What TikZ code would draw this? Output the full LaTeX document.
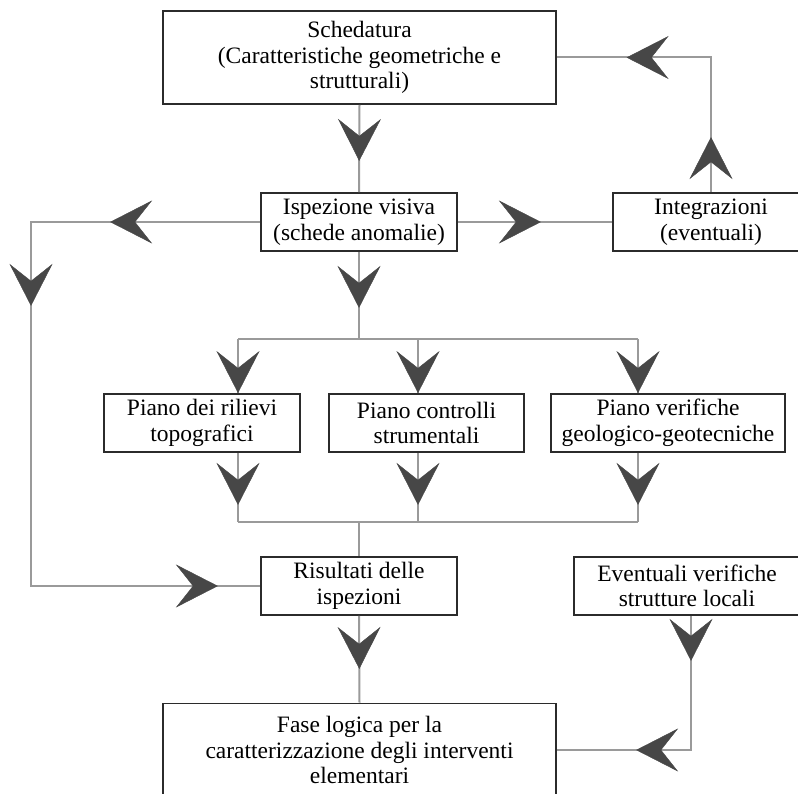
\documentclass[tikz,border=0pt]{standalone}
\usepackage{fontspec}
\setmainfont{Liberation Serif}
\usetikzlibrary{arrows.meta,decorations.markings}
\definecolor{connc}{HTML}{9A9A9A}
\definecolor{tipc}{HTML}{474747}
\definecolor{boxc}{HTML}{2B2B2B}
\newcommand\mytip{\arrow{Stealth[length=42pt,width=43pt,inset=17pt,line width=0.4pt,color=tipc,fill=tipc]}}
\tikzset{
  box/.style={draw=boxc, line width=1.8pt, fill=white, inner sep=0pt, align=center,
    font=\fontsize{23.5}{25.5}\selectfont},
  conn/.style={draw=connc, line width=2pt},
  tips/.style={postaction={decorate, decoration={markings, #1}}},
}
\begin{document}
\begin{tikzpicture}[x=1pt,y=-1pt]
\useasboundingbox (0,0) rectangle (798,794);
\clip (0,0) rectangle (798,794);
\fill[white] (0,0) rectangle (798,794);

% boxes
\node[box, minimum width=393pt, minimum height=93pt] (sch) at (359.5,57.5)
  {Schedatura\\(Caratteristiche geometriche e\\strutturali)};
\node[box, minimum width=196pt, minimum height=58pt] (isp) at (359,222)
  {Ispezione visiva\\(schede anomalie)};
\node[box, minimum width=196pt, minimum height=58pt] (integ) at (711,222)
  {Integrazioni\\(eventuali)};
\node[box, minimum width=196pt, minimum height=58pt] (p1) at (202,423)
  {Piano dei rilievi\\topografici};
\node[box, minimum width=195pt, minimum height=58pt] (p2) at (426.5,423)
  {Piano controlli\\strumentali};
\node[box, minimum width=234pt, minimum height=58pt] (p3) at (668,423)
  {Piano verifiche\\geologico-geotecniche};
\node[box, minimum width=196pt, minimum height=58pt] (ris) at (359,586)
  {Risultati delle\\ispezioni};
\node[box, minimum width=226pt, minimum height=58pt] (ev) at (687,586)
  {Eventuali verifiche\\strutture locali};
\node[box, minimum width=393pt, minimum height=93pt] (fase) at (359.5,750)
  {Fase logica per la\\caratterizzazione degli interventi\\elementari};

% helper coordinates
\coordinate (lt) at (31,222);
\coordinate (lb) at (31,586);
\coordinate (it) at (711,57.5);
\coordinate (b1) at (238,339);
\coordinate (b2) at (418,339);
\coordinate (b3) at (638,339);
\coordinate (c1) at (238,522);
\coordinate (c2) at (418,522);
\coordinate (c3) at (638,522);
\coordinate (eb) at (691,750);

% connectors
\draw[conn, tips={mark=at position 56pt with \mytip}] (sch.south) -- (isp.north);
\draw[conn, tips={mark=at position 150pt with \mytip, mark=at position 313pt with \mytip,
    mark=at position 780pt with \mytip}] (isp.west) -- (lt) -- (lb) -- (ris.west);
\draw[conn, tips={mark=at position 83pt with \mytip}] (isp.east) -- (integ.west);
\draw[conn, tips={mark=at position 55pt with \mytip, mark=at position 219pt with \mytip}]
  (integ.north) -- (it) -- (sch.east);
\draw[conn, tips={mark=at position 56pt with \mytip}] (isp.south) -- (isp.south |- b1);
\draw[conn] (b1) -- (b3);
\draw[conn, tips={mark=at position 0.999 with \mytip}] (b1) -- (b1 |- p1.north);
\draw[conn, tips={mark=at position 0.999 with \mytip}] (b2) -- (b2 |- p2.north);
\draw[conn, tips={mark=at position 0.999 with \mytip}] (b3) -- (b3 |- p3.north);
\draw[conn, tips={mark=at position 52pt with \mytip}] (p1.south -| c1) -- (c1);
\draw[conn, tips={mark=at position 52pt with \mytip}] (p2.south -| c2) -- (c2);
\draw[conn, tips={mark=at position 52pt with \mytip}] (p3.south -| c3) -- (c3);
\draw[conn] (c1) -- (c3);
\draw[conn] (ris.north |- c1) -- (ris.north);
\draw[conn, tips={mark=at position 53pt with \mytip}] (ris.south) -- (fase.north);
\draw[conn, tips={mark=at position 45pt with \mytip, mark=at position 189pt with \mytip}]
  (ev.south -| eb) -- (eb) -- (fase.east |- eb);
\end{tikzpicture}
\end{document}
